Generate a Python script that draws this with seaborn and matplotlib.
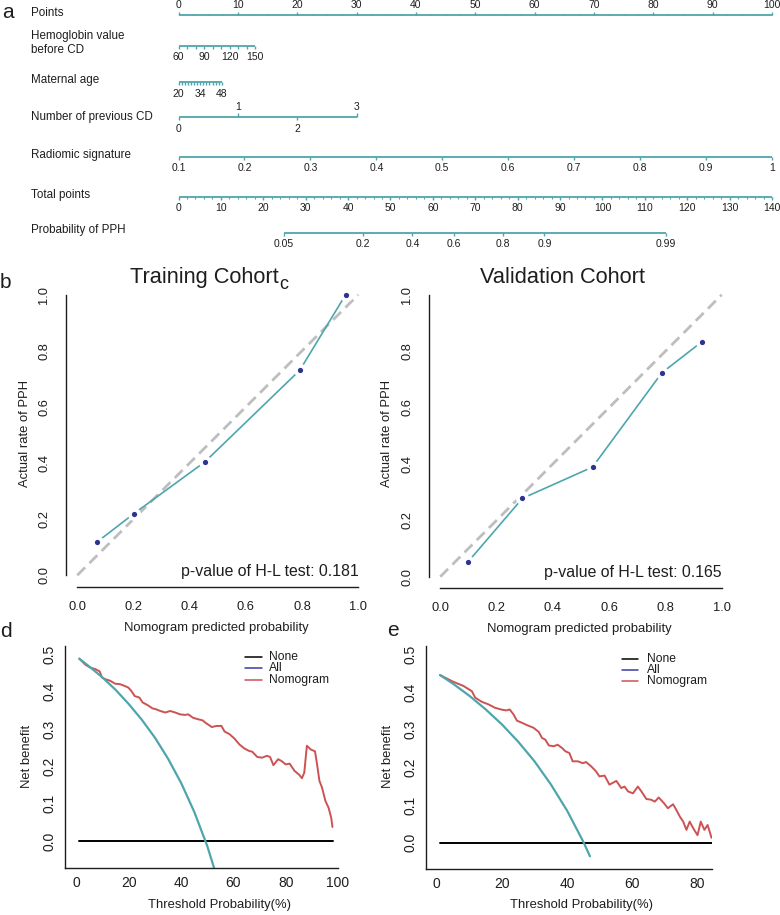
"""
Nomogram, calibration curves and decision curves for PPH prediction.
Re-drawn with matplotlib/seaborn in R base-graphics style.
"""

import numpy as np
import matplotlib
matplotlib.use("Agg")
import matplotlib.pyplot as plt
from matplotlib.lines import Line2D
import seaborn as sns

sns.set_theme(style="white")
plt.rcParams["font.family"] = ["Liberation Sans", "DejaVu Sans"]

TEAL = "#4EA6AC"
NAVY = "#2C3391"
RED = "#CD5253"
GRAY = "#BEBEBE"
BLUE = "#3B3BA6"
INK = "#1E1E1E"
W, H = 780, 915

# ---------------- data ----------------
# nomogram scales (value ticks and the points they map to)
points_ticks = np.arange(0, 101, 10)
hb_ticks = np.arange(60, 151, 10)
hb_labels = [60, 90, 120, 150]
hb_pts = [0, 12.9]
age_ticks = np.arange(20, 49, 2)
age_labels = [20, 34, 48]
age_pts = [0, 7.3]
cd_ticks = [0, 1, 2, 3]
cd_pts = [0, 10, 20, 30]
rad_ticks = [0.1, 0.2, 0.3, 0.4, 0.5, 0.6, 0.7, 0.8, 0.9, 1]
rad_pts = [0, 100]
total_ticks = np.arange(0, 141, 10)
prob_ticks = [0.05, 0.2, 0.4, 0.6, 0.8, 0.9, 0.99]
lp_intercept, lp_slope = -5.02, 0.0836  # logit(p) = a + b * total points

# calibration (b: training, c: validation)
train_pred = [0.071, 0.202, 0.454, 0.792, 0.955]
train_obs = [0.119, 0.220, 0.404, 0.731, 1.0]
valid_pred = [0.097, 0.292, 0.541, 0.787, 0.929]
valid_obs = [0.051, 0.278, 0.389, 0.723, 0.833]

# decision curves (d: training, e: validation)
d_all_thr = [1, 5, 10, 15, 20, 25, 30, 35, 40, 45, 50, 55]
d_all_nb = [0.488, 0.466, 0.437, 0.404, 0.366, 0.324, 0.276, 0.220, 0.155, 0.078, -0.014, -0.127]
d_nom_thr = [1, 3.5, 5.3, 7.2, 8.8, 9.7, 11, 12.8, 14.7, 16.5, 18.4, 19.7, 20.9, 22.2, 24,
             25.2, 27.1, 29, 30.2, 32, 33.9, 35.8, 37.7, 39.6, 41.4, 42.7, 44.5, 46.4, 48.2,
             49.2, 51.7, 53.5, 55.4, 56.6, 58.5, 60.4, 62.2, 64.1, 66, 67.2, 69.1, 71, 72.8,
             74, 75.3, 77.1, 78.4, 80, 81.5, 83.4, 85.2, 86.2, 87.1, 88.1, 89.6, 91.2, 92,
             92.9, 93.9, 95.2, 96.4, 97.4, 97.9]
d_nom_nb = [0.488, 0.471, 0.464, 0.460, 0.454, 0.4375, 0.433, 0.429, 0.421, 0.420, 0.415,
            0.411, 0.402, 0.388, 0.384, 0.371, 0.364, 0.355, 0.353, 0.348, 0.344, 0.348,
            0.344, 0.339, 0.3375, 0.339, 0.330, 0.326, 0.323, 0.317, 0.305, 0.308, 0.308,
            0.293, 0.286, 0.274, 0.259, 0.248, 0.241, 0.239, 0.225, 0.223, 0.228, 0.225,
            0.203, 0.219, 0.214, 0.205, 0.207, 0.1875, 0.177, 0.168, 0.183, 0.255, 0.245,
            0.240, 0.205, 0.161, 0.143, 0.107, 0.089, 0.0625, 0.0375]
d_none_thr = [1, 98]

e_all_thr = [1, 5, 10, 15, 20, 25, 30, 35, 40, 45, 47]
e_all_nb = [0.445, 0.422, 0.390, 0.354, 0.314, 0.268, 0.216, 0.155, 0.085, 0.002, -0.036]
e_nom_thr = [1, 5.1, 8.2, 10.8, 11.8, 13.8, 15.9, 17.9, 20, 21.3, 22.4, 23.6, 24.6, 26.2,
             27.7, 29.7, 31.3, 32.3, 33.3, 34.4, 35.9, 37.1, 38.5, 39.5, 40.7, 41.7, 43.3,
             44.8, 45.8, 47.4, 48.9, 49.9, 51.5, 53, 55.1, 56.6, 57.6, 58.7, 60.2, 61.7,
             62.8, 64.3, 65.8, 66.9, 68.1, 69.7, 70.9, 72.5, 73.5, 74.6, 75.6, 76.6, 77.6,
             78.7, 80, 81, 82.1, 83.1, 84.3]
e_nom_nb = [0.445, 0.427, 0.416, 0.402, 0.385, 0.374, 0.367, 0.358, 0.353, 0.351, 0.3535,
            0.340, 0.324, 0.318, 0.312, 0.305, 0.294, 0.278, 0.2735, 0.258, 0.256, 0.260,
            0.251, 0.2425, 0.238, 0.216, 0.216, 0.211, 0.214, 0.2025, 0.189, 0.176, 0.178,
            0.154, 0.164, 0.145, 0.149, 0.136, 0.131, 0.149, 0.136, 0.116, 0.114, 0.109,
            0.120, 0.105, 0.0915, 0.102, 0.087, 0.069, 0.056, 0.034, 0.056, 0.038, 0.020,
            0.056, 0.034, 0.047, 0.013]
e_none_thr = [1, 99]


# ---------------- helpers ----------------
def axes_px(fig, x0, y0, x1, y1):
    return fig.add_axes([x0 / W, 1 - y1 / H, (x1 - x0) / W, (y1 - y0) / H])


def ftext(fig, x, y, s, **kw):
    kw.setdefault("color", INK)
    fig.text(x / W, 1 - y / H, s, **kw)


def scale_row(ax, y, pos, lab_pos, labels, up=False, minor=None, lab_dy=11.5):
    s = -1 if up else 1
    ax.plot([min(pos), max(pos)], [y, y], color=TEAL, lw=1.3, solid_capstyle="butt")
    ax.vlines(pos, y, y + s * 3.3, color=TEAL, lw=1.0)
    if minor is not None:
        ax.vlines(minor, y, y + s * 1.8, color=TEAL, lw=0.8)
    for x, t in zip(lab_pos, labels):
        ax.text(x, y + s * lab_dy, str(t), ha="center", va="center", fontsize=7.5, color=INK)


fig = plt.figure(figsize=(W / 100, H / 100), dpi=100)

# ---------------- a: nomogram ----------------
PX0, PXU = 178.5, 5.935  # pixel of 0 points, pixels per point
ax = axes_px(fig, 0, 0, W, 250)
ax.set_xlim(-PX0 / PXU, (W - PX0) / PXU)
ax.set_ylim(250, 0)
ax.axis("off")

scale_row(ax, 15.3, points_ticks, points_ticks, points_ticks, up=True,
          minor=np.arange(0, 100.1, 2.5), lab_dy=10.8)

hb_pos = np.interp(hb_ticks, [60, 150], hb_pts)
scale_row(ax, 46, hb_pos, np.interp(hb_labels, [60, 150], hb_pts), hb_labels, lab_dy=11.3)

age_pos = np.interp(age_ticks, [20, 48], age_pts)
scale_row(ax, 81.7, age_pos, np.interp(age_labels, [20, 48], age_pts), age_labels, lab_dy=12.3)

y_cd = 116.7
ax.plot([cd_pts[0], cd_pts[-1]], [y_cd, y_cd], color=TEAL, lw=1.3, solid_capstyle="butt")
for v, p in zip(cd_ticks, cd_pts):
    s = -1 if v % 2 else 1
    ax.vlines(p, y_cd, y_cd + s * 3.3, color=TEAL, lw=1.0)
    ax.text(p, y_cd + (-10 if v % 2 else 12.6), str(v), ha="center", va="center",
            fontsize=7.5, color=INK)

rad_pos = np.interp(rad_ticks, [0.1, 1], rad_pts)
scale_row(ax, 156.7, rad_pos, rad_pos, rad_ticks, lab_dy=11.6)

tot_pos = total_ticks * 100 / 140
scale_row(ax, 196.7, tot_pos, tot_pos, total_ticks,
          minor=np.arange(0, 140.1, 2) * 100 / 140, lab_dy=11.6)

logit = np.log(np.array(prob_ticks) / (1 - np.array(prob_ticks)))
prob_pos = (logit - lp_intercept) / lp_slope * 100 / 140
scale_row(ax, 232.7, prob_pos, prob_pos, prob_ticks, lab_dy=11.6)

LX = (30.7 - PX0) / PXU
row_labels = [("Points", 13.3), ("Hemoglobin value", 36), ("before CD", 50),
              ("Maternal age", 80), ("Number of previous CD", 116.7),
              ("Radiomic signature", 155), ("Total points", 195),
              ("Probability of PPH", 230)]
for t, yy in row_labels:
    ax.text(LX, yy, t, ha="left", va="center", fontsize=8.4, color=INK)


# ---------------- b, c: calibration ----------------
def calib(ax, pred, obs, pval):
    ax.set_xlim(-0.04, 1.04)
    ax.set_ylim(-0.04, 1.04)
    ax.plot([0, 1], [0, 1], color=GRAY, lw=2.0, dashes=(4, 2.2), zorder=1)
    sns.lineplot(x=pred, y=obs, ax=ax, color=TEAL, lw=1.2, sort=False,
                 estimator=None, zorder=2)
    sns.scatterplot(x=pred, y=obs, ax=ax, color=NAVY, s=44, edgecolor="white",
                    linewidth=2.8, zorder=3)
    sns.despine(ax=ax)
    for sp in ("left", "bottom"):
        ax.spines[sp].set_bounds(0, 1)
        ax.spines[sp].set_color(INK)
        ax.spines[sp].set_linewidth(1.0)
    ticks = np.arange(0, 1.01, 0.2)
    ax.set_xticks(ticks)
    ax.set_yticks(ticks)
    ax.set_xticklabels([f"{t:.1f}" for t in ticks])
    ax.set_yticklabels([f"{t:.1f}" for t in ticks], rotation=90, va="center")
    ax.tick_params(axis="both", direction="out", length=5, width=1.0, color=INK,
                   labelsize=9.3, labelcolor=INK)
    ax.tick_params(axis="y", pad=6.5)
    ax.tick_params(axis="x", pad=5.4)
    ax.set_xlabel("")
    ax.set_ylabel("")
    ax.text(1.0, 0.015, f"p-value of H-L test: {pval}", ha="right", va="center",
            fontsize=11.4, color=INK)


ax_b = axes_px(fig, 66, 283.5, 369.5, 586.5)
calib(ax_b, train_pred, train_obs, "0.181")
ax_c = axes_px(fig, 429, 283.5, 733, 588)
calib(ax_c, valid_pred, valid_obs, "0.165")

ftext(fig, 130, 283, "Training Cohort", ha="left", va="baseline", fontsize=15.7)
ftext(fig, 279, 289, "c", ha="left", va="baseline", fontsize=13)
ftext(fig, 480, 283, "Validation Cohort", ha="left", va="baseline", fontsize=15.7)
ftext(fig, 216, 628, "Nomogram predicted probability", ha="center", va="center", fontsize=9.4)
ftext(fig, 579, 629, "Nomogram predicted probability", ha="center", va="center", fontsize=9.4)
ftext(fig, 25, 434, "Actual rate of PPH", ha="center", va="center", fontsize=9.4, rotation=90)
ftext(fig, 387, 434, "Actual rate of PPH", ha="center", va="center", fontsize=9.4, rotation=90)


# ---------------- d, e: decision curves ----------------
def dca(ax, none_thr, all_thr, all_nb, nom_thr, nom_nb, xlim, ylim, xticks):
    ax.set_xlim(*xlim)
    ax.set_ylim(*ylim)
    sns.lineplot(x=none_thr, y=[0] * len(none_thr), ax=ax, color="black", lw=1.4,
                 estimator=None)
    sns.lineplot(x=nom_thr, y=nom_nb, ax=ax, color=RED, lw=1.4, sort=False, estimator=None)
    sns.lineplot(x=all_thr, y=all_nb, ax=ax, color=TEAL, lw=1.6, sort=False, estimator=None)
    sns.despine(ax=ax)
    for sp in ("left", "bottom"):
        ax.spines[sp].set_color(INK)
        ax.spines[sp].set_linewidth(1.0)
    yt = np.arange(0, 0.51, 0.1)
    ax.set_xticks(xticks)
    ax.set_yticks(yt)
    ax.set_xticklabels([str(t) for t in xticks])
    ax.set_yticklabels([f"{t:.1f}" for t in yt], rotation=90, va="center")
    ax.tick_params(axis="both", direction="out", length=4.1, width=1.0, color=INK,
                   labelsize=10, labelcolor=INK)
    ax.tick_params(axis="y", pad=2.2)
    ax.tick_params(axis="x", pad=1.6)
    ax.set_xlabel("")
    ax.set_ylabel("")


def legend_px(fig, x0, x1, xt, ys):
    for (name, col), yy in zip([("None", "black"), ("All", BLUE), ("Nomogram", RED)], ys):
        fig.add_artist(Line2D([x0 / W, x1 / W], [1 - yy / H, 1 - yy / H], color=col, lw=1.1))
        ftext(fig, xt, yy, name, ha="left", va="center", fontsize=8.7)


ax_d = axes_px(fig, 65, 646, 338.5, 867.7)
dca(ax_d, d_none_thr, d_all_thr, d_all_nb, d_nom_thr, d_nom_nb,
    (-4.47, 100.2), (-0.0715, 0.522), [0, 20, 40, 60, 80, 100])
ax_e = axes_px(fig, 426, 646, 711.7, 869.3)
dca(ax_e, e_none_thr, e_all_thr, e_all_nb, e_nom_thr, e_nom_nb,
    (-3.28, 84.35), (-0.0706, 0.522), [0, 20, 40, 60, 80])

legend_px(fig, 245, 262, 269, [657.3, 668.3, 679.7])
legend_px(fig, 621.7, 638.3, 646.7, [659, 670, 681])

ftext(fig, 220, 905, "Threshold Probability(%)", ha="center", va="center", fontsize=9.4)
ftext(fig, 582, 905, "Threshold Probability(%)", ha="center", va="center", fontsize=9.4)
ftext(fig, 26.7, 756, "Net benefit", ha="center", va="center", fontsize=9.4, rotation=90)
ftext(fig, 388, 756, "Net benefit", ha="center", va="center", fontsize=9.4, rotation=90)

# panel letters
ftext(fig, 1.7, 18.3, "a", ha="left", va="baseline", fontsize=15)
ftext(fig, 0, 288, "b", ha="left", va="baseline", fontsize=15)
ftext(fig, 0, 636.7, "d", ha="left", va="baseline", fontsize=15)
ftext(fig, 387, 636, "e", ha="left", va="baseline", fontsize=15)

fig.savefig("out.png", dpi=100)
plt.close(fig)
print("saved out.png")
